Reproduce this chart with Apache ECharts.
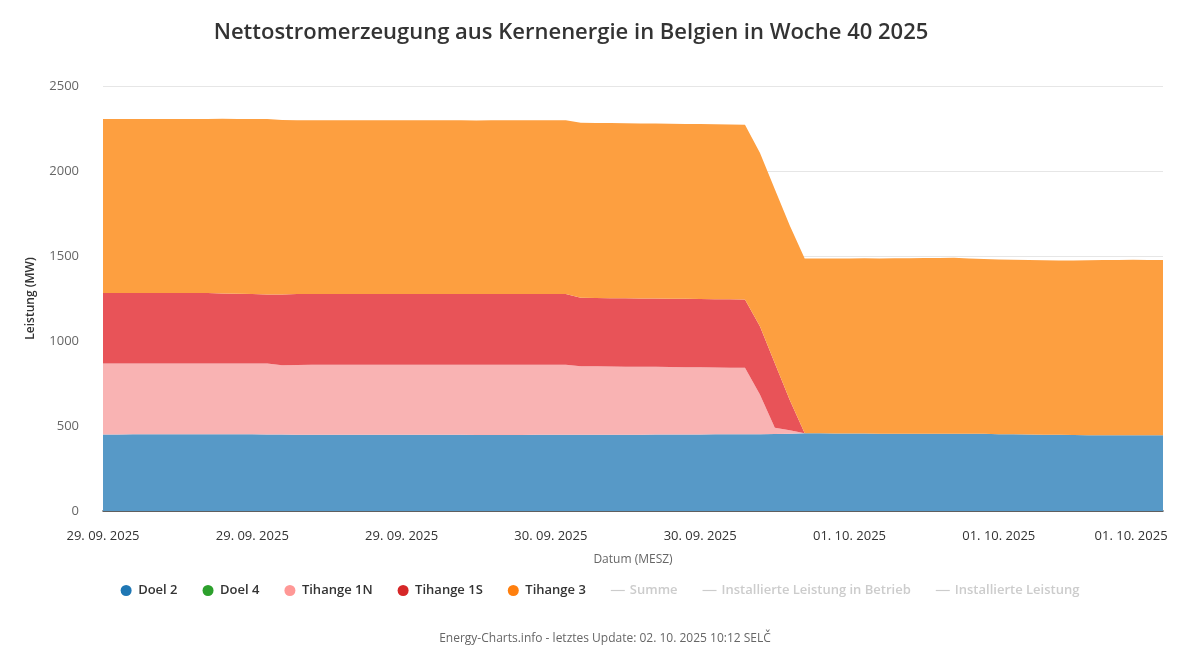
<!DOCTYPE html>
<html>
<head>
<meta charset="utf-8">
<script src="https://cdn.jsdelivr.net/npm/echarts@6/dist/echarts.min.js"></script>
<style>
html,body{margin:0;padding:0;background:#fff;}
#chart{width:1200px;height:665px;}
</style>
</head>
<body>
<div id="chart"></div>
<script>
// Hours since 29.09.2025 00:00 (MESZ), hourly points 0..71
const hours = [];
for (let h = 0; h < 72; h++) hours.push(String(h));

// x-axis tick labels every 10 hours (0,10,...,70)
const tickLabels = ["29. 09. 2025","29. 09. 2025","29. 09. 2025","30. 09. 2025","30. 09. 2025","01. 10. 2025","01. 10. 2025","01. 10. 2025"];

const doel2 = [
  450,450,451,451,452,452,452,452,451,451,
  451,450,450,449,449,449,449,449,448,448,
  448,448,448,448,448,447,447,447,447,448,
  448,448,449,449,449,449,449,450,450,450,
  450,451,451,451,452,453,454,457,457,456,
  456,456,455,455,455,455,455,455,455,454,
  452,451,450,449,448,447,446,446,445,445,
  446,446
];
const doel4 = [
  0,0,0,0,0,0,0,0,0,0, 0,0,0,0,0,0,0,0,0,0,
  0,0,0,0,0,0,0,0,0,0, 0,0,0,0,0,0,0,0,0,0,
  0,0,0,0,0,0,0,0,0,0, 0,0,0,0,0,0,0,0,0,0,
  0,0,0,0,0,0,0,0,0,0, 0,0
];
const tihange1N = [
  418,418,417,417,416,416,416,416,417,417,
  417,417,408,410,411,411,411,411,412,412,
  412,412,412,412,412,413,413,413,413,412,
  412,412,403,402,401,400,399,398,397,396,
  395,393,392,391,233,36,21,0,0,0,
  0,0,0,0,0,0,0,0,0,0,
  0,0,0,0,0,0,0,0,0,0,
  0,0
];
const tihange1S = [
  415,415,415,415,415,415,415,415,412,410,
  408,407,416,417,417,417,417,417,417,417,
  417,417,417,417,417,416,416,416,416,417,
  417,417,402,402,402,402,402,402,402,402,
  402,402,402,402,402,380,178,0,0,0,
  0,0,0,0,0,0,0,0,0,0,
  0,0,0,0,0,0,0,0,0,0,
  0,0
];
const tihange3 = [
  1023,1023,1023,1023,1023,1023,1023,1023,1027,1028,
  1030,1032,1026,1022,1021,1021,1021,1021,1021,1021,
  1021,1021,1021,1021,1021,1021,1022,1022,1022,1021,
  1021,1021,1030,1030,1030,1030,1030,1029,1029,1029,
  1029,1029,1028,1028,1020,1024,1026,1028,1029,1030,
  1030,1031,1031,1032,1032,1033,1033,1034,1031,1029,
  1028,1027,1026,1026,1026,1027,1029,1030,1032,1033,
  1031,1030
];

const yTicks = [0, 500, 1000, 1500, 2000, 2500];

function areaSeries(name, color, fill, arr) {
  return {
    name: name, type: 'line', stack: 'total', data: arr,
    symbol: 'none', showSymbol: false,
    lineStyle: { width: 0 },
    itemStyle: { color: color },
    areaStyle: { color: fill, opacity: 1 },
    emphasis: { disabled: true }
  };
}

const chart = echarts.init(document.getElementById('chart'), null, { renderer: 'canvas' });
const dash = 'path://M0,0 L24,0 L24,2 L0,2 Z';
const font = '"Open Sans", "Liberation Sans", sans-serif';
const xLabelStyle = { fontSize: 13, color: '#333333', fontFamily: font };

chart.setOption({
  animation: false,
  textStyle: { fontFamily: font },
  title: [
    {
      text: 'Nettostromerzeugung aus Kernenergie in Belgien in Woche 40 2025',
      left: 566, textAlign: 'center', top: 17,
      textStyle: { fontFamily: font, fontSize: 22, fontWeight: 600, color: '#333333' }
    },
    {
      text: 'Energy-Charts.info - letztes Update: 02. 10. 2025 10:12 SELČ',
      left: 600, textAlign: 'center', top: 628,
      textStyle: { fontFamily: font, fontSize: 12, fontWeight: 'normal', color: '#666666' }
    }
  ],
  grid: { left: 103, right: 37, top: 86, bottom: 154, containLabel: false },
  legend: {
    left: 'center', top: 579,
    itemWidth: 14, itemHeight: 11, itemGap: 25,
    textStyle: { fontFamily: font, fontSize: 13, fontWeight: 600, color: '#333333' },
    inactiveColor: '#cccccc',
    data: [
      { name: 'Doel 2', icon: 'circle' },
      { name: 'Doel 4', icon: 'circle' },
      { name: 'Tihange 1N', icon: 'circle' },
      { name: 'Tihange 1S', icon: 'circle' },
      { name: 'Tihange 3', icon: 'circle' },
      { name: 'Summe', icon: dash },
      { name: 'Installierte Leistung in Betrieb', icon: dash },
      { name: 'Installierte Leistung', icon: dash }
    ],
    selected: {
      'Summe': false,
      'Installierte Leistung in Betrieb': false,
      'Installierte Leistung': false
    }
  },
  xAxis: {
    type: 'category', data: hours, boundaryGap: false,
    name: 'Datum (MESZ)', nameLocation: 'middle', nameGap: 43,
    nameTextStyle: { fontFamily: font, fontSize: 12, color: '#666666' },
    axisLine: { show: true, lineStyle: { color: '#333333', width: 1.5 } },
    axisTick: { show: false },
    splitLine: { show: false },
    axisLabel: {
      margin: 19, fontSize: 13, color: '#333333', fontFamily: font,
      interval: function (index) { return index % 10 === 0; },
      formatter: function (value, index) {
        const k = Math.round(index / 10);
        return k === tickLabels.length - 1 ? '{last|' + tickLabels[k] + '}' : tickLabels[k];
      },
      rich: { last: Object.assign({ padding: [0, 34, 0, 0] }, xLabelStyle) }
    }
  },
  yAxis: {
    type: 'value', min: yTicks[0], max: yTicks[yTicks.length - 1], interval: 500,
    name: 'Leistung (MW)', nameLocation: 'middle', nameGap: 66,
    nameTextStyle: { fontFamily: font, fontSize: 12, fontWeight: 600, color: '#333333' },
    axisLine: { show: false },
    axisTick: { show: false },
    splitLine: { show: true, lineStyle: { color: '#e6e6e6', width: 1 } },
    axisLabel: { margin: 24, fontSize: 13, color: '#666666', fontFamily: font,
      formatter: function (v) { return String(v); } }
  },
  series: [
    areaSeries('Doel 2', '#1f77b4', '#5799c7', doel2),
    areaSeries('Doel 4', '#2ca02c', '#61b861', doel4),
    areaSeries('Tihange 1N', '#ff9896', '#f9b3b3', tihange1N),
    areaSeries('Tihange 1S', '#d62728', '#e85358', tihange1S),
    areaSeries('Tihange 3', '#ff7f0e', '#fd9f40', tihange3),
    { name: 'Summe', type: 'line', data: [], symbol: 'none', itemStyle: { color: '#333333' } },
    { name: 'Installierte Leistung in Betrieb', type: 'line', data: [], symbol: 'none', itemStyle: { color: '#666666' } },
    { name: 'Installierte Leistung', type: 'line', data: [], symbol: 'none', itemStyle: { color: '#999999' } }
  ]
});
</script>
</body>
</html>
